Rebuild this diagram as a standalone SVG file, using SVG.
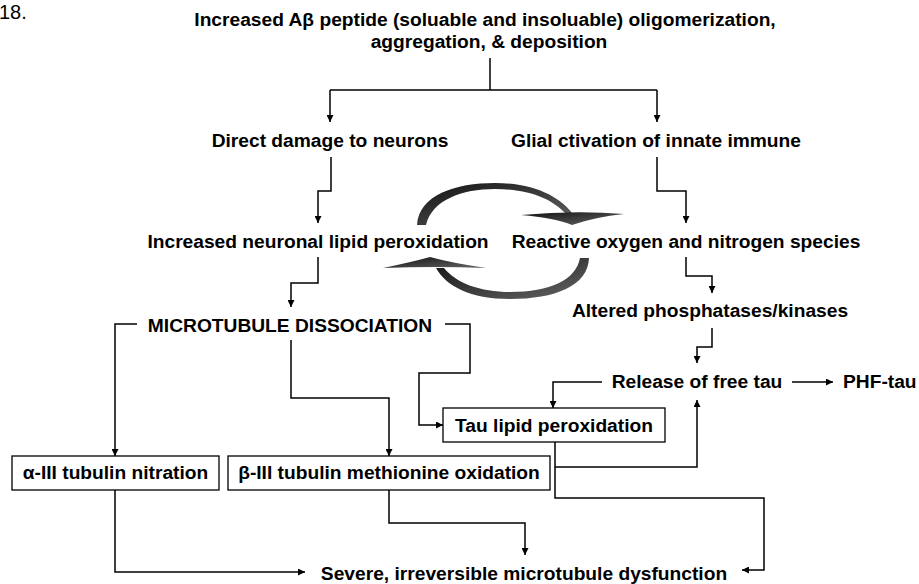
<svg xmlns="http://www.w3.org/2000/svg" width="919" height="584" viewBox="0 0 919 584">
<style>
text{font-family:"Liberation Sans",Arial,sans-serif;font-weight:bold;font-size:19.2px;fill:#000}
.c{text-anchor:middle}
.ln{fill:none;stroke:#000;stroke-width:1.5}
.bx{fill:#fff;stroke:#000;stroke-width:1.3}
.cyc{fill:url(#g)}
</style>
<defs>
<marker id="a" viewBox="0 0 10 10" refX="10" refY="5" markerWidth="7" markerHeight="7" markerUnits="userSpaceOnUse" orient="auto">
<path d="M0,0 L10,5 L0,10 Z" fill="#000"/>
</marker>
<linearGradient id="g" x1="0" y1="0" x2="1" y2="1">
<stop offset="0" stop-color="#111"/>
<stop offset="1" stop-color="#666"/>
</linearGradient>
</defs>
<text x="-1" y="19" style="font-weight:normal;font-size:20px">18.</text>
<g id="top"><text class="c" x="485" y="26">Increased Aβ peptide (soluable and insoluable) oligomerization,</text><text class="c" x="489" y="48">aggregation, &amp; deposition</text></g>
<g id="direct"><text class="c" x="330" y="147">Direct damage to neurons</text></g>
<g id="glial"><text class="c" x="656" y="147">Glial ctivation of innate immune</text></g>
<g id="neuronal"><text class="c" x="318" y="248">Increased neuronal lipid peroxidation</text></g>
<g id="ros"><text class="c" x="686" y="248">Reactive oxygen and nitrogen species</text></g>
<g id="altered"><text class="c" x="710" y="317">Altered phosphatases/kinases</text></g>
<g id="mt"><text class="c" x="290" y="332">MICROTUBULE DISSOCIATION</text></g>
<g id="release"><text class="c" x="697" y="388">Release of free tau</text></g>
<g id="phf"><text x="843" y="388">PHF-tau</text></g>
<g id="taulp"><rect class="bx" x="443" y="408" width="222" height="34"/><text class="c" x="554" y="432">Tau lipid peroxidation</text></g>
<g id="alpha"><rect class="bx" x="12" y="456" width="207" height="34"/><text class="c" x="115.5" y="479">α-III tubulin nitration</text></g>
<g id="beta"><rect class="bx" x="228" y="456" width="322" height="34"/><text class="c" x="389" y="479">β-III tubulin methionine oxidation</text></g>
<g id="severe"><text class="c" x="524" y="580">Severe, irreversible microtubule dysfunction</text></g>
<g id="cycle">
<path class="cyc" d="M417,225 C419,195 455,183 495,183 C535,183 560,197 573,214 L566,214 C552,199 530,189 495,189 C462,189 432,200 426,225 Z"/>
<path class="cyc" d="M521,215 Q575,210 624,214 Q595,217 572,225 Q555,218 521,215 Z"/>
<path class="cyc" d="M589,258 C588,286 555,299 510,299 C470,299 446,286 436,268 L444,268 C456,283 480,292 510,292 C550,292 576,280 580,258 Z"/>
<path class="cyc" d="M383,268 Q412,262 430,257 Q452,263 486,268 Q435,266 383,268 Z"/>
</g>
<g id="connectors">
<path class="ln" d="M490,58 V90"/>
<path class="ln" d="M330,90 H657"/>
<path class="ln" d="M330,90 V122" marker-end="url(#a)"/>
<path class="ln" d="M657,90 V122" marker-end="url(#a)"/>
<path class="ln" d="M331,157 V191 H318 V223" marker-end="url(#a)"/>
<path class="ln" d="M657,157 V191 H686 V223" marker-end="url(#a)"/>
<path class="ln" d="M318,257 V283 H291 V307" marker-end="url(#a)"/>
<path class="ln" d="M686,257 V276 H712 V293" marker-end="url(#a)"/>
<path class="ln" d="M712,328 V347 H697 V363" marker-end="url(#a)"/>
<path class="ln" d="M137,324 H115 V456" marker-end="url(#a)"/>
<path class="ln" d="M291,340 V398 H389 V456" marker-end="url(#a)"/>
<path class="ln" d="M445,324 H470 V373 H419 V425 H443" marker-end="url(#a)"/>
<path class="ln" d="M602,382 H553 V408" marker-end="url(#a)"/>
<path class="ln" d="M792,382 H833" marker-end="url(#a)"/>
<path class="ln" d="M555,442 V498 H764 V570 H742" marker-end="url(#a)"/>
<path class="ln" d="M555,467 H697 V400" marker-end="url(#a)"/>
<path class="ln" d="M389,490 V523 H525 V555" marker-end="url(#a)"/>
<path class="ln" d="M115,490 V572 H305" marker-end="url(#a)"/>
</g>
</svg>
